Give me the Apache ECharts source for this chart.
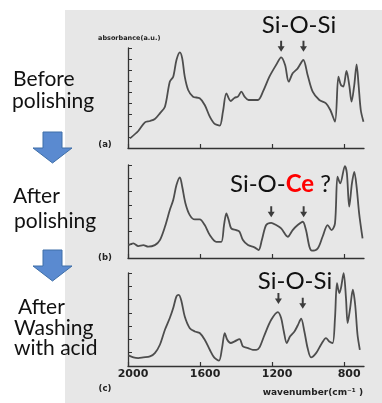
<!DOCTYPE html>
<html>
<head>
<meta charset="utf-8">
<script src="https://cdn.jsdelivr.net/npm/echarts@6/dist/echarts.min.js"></script>
<style>
  html, body { margin: 0; padding: 0; background: #fff; }
  #main { width: 382px; height: 403px; }
</style>
</head>
<body>
<div id="main"></div>
<script>
// wavenumber (cm-1) and absorbance (a.u.)
const wnA = [1989, 1943, 1906, 1878, 1851, 1823, 1795, 1768, 1749, 1731, 1712, 1699, 1685, 1666, 1639, 1602, 1574, 1546, 1522, 1491, 1473, 1454, 1430, 1408, 1390, 1371, 1353, 1331, 1279, 1251, 1215, 1178, 1150, 1128, 1108, 1086, 1058, 1027, 1003, 975, 938, 901, 877, 851, 832, 818, 805, 787, 772, 759, 744, 731, 720, 708, 693]
const absA = [0.87, 1.53, 2.31, 2.43, 2.61, 3.12, 3.72, 5.97, 6.42, 7.92, 8.61, 8.07, 6.42, 5.22, 4.62, 4.47, 3.87, 2.82, 2.22, 2.01, 3.27, 4.92, 4.23, 4.53, 4.62, 5.07, 4.62, 4.32, 4.32, 5.07, 6.42, 7.47, 8.16, 7.47, 5.97, 6.72, 7.17, 7.92, 6.57, 5.07, 4.32, 4.02, 3.42, 2.37, 6.42, 5.67, 5.52, 6.93, 5.67, 4.17, 5.67, 7.53, 5.67, 3.42, 2.37]

const wnB = [1998, 1970, 1943, 1915, 1888, 1851, 1823, 1795, 1768, 1749, 1731, 1712, 1699, 1681, 1657, 1629, 1602, 1574, 1546, 1510, 1482, 1467, 1454, 1441, 1427, 1399, 1381, 1362, 1334, 1298, 1275, 1257, 1233, 1205, 1178, 1150, 1113, 1086, 1058, 1030, 1012, 993, 979, 947, 920, 892, 870, 851, 837, 822, 796, 785, 772, 757, 744, 731, 717, 698]
const absB = [0.97, 1.10, 0.90, 0.97, 0.85, 0.97, 1.35, 2.35, 3.61, 4.36, 5.49, 6.07, 5.36, 4.11, 3.23, 2.90, 2.90, 2.48, 1.73, 1.22, 1.22, 2.48, 3.36, 2.85, 2.23, 2.10, 1.98, 1.35, 0.97, 0.80, 0.60, 1.35, 2.48, 2.65, 2.48, 2.23, 1.60, 2.10, 2.48, 2.73, 2.10, 0.85, 0.55, 0.72, 1.60, 2.48, 2.10, 2.60, 6.12, 5.61, 6.92, 6.37, 3.86, 5.61, 6.49, 5.36, 3.36, 1.47]

const wnC = [1998, 1970, 1943, 1915, 1878, 1851, 1823, 1795, 1768, 1749, 1731, 1718, 1703, 1685, 1657, 1629, 1602, 1574, 1546, 1522, 1495, 1478, 1463, 1449, 1430, 1408, 1381, 1362, 1334, 1307, 1288, 1270, 1242, 1205, 1168, 1150, 1135, 1119, 1100, 1076, 1058, 1039, 1021, 1003, 984, 956, 929, 901, 883, 864, 851, 840, 827, 818, 803, 790, 781, 767, 752, 739, 726, 713]
const absC = [0.80, 0.65, 0.60, 0.65, 0.72, 0.97, 1.60, 2.73, 3.61, 4.36, 5.24, 5.36, 4.86, 3.73, 2.85, 2.60, 2.48, 1.98, 1.22, 0.65, 0.40, 1.35, 2.48, 1.98, 1.73, 1.85, 2.03, 1.47, 1.35, 1.22, 1.22, 1.40, 2.35, 3.48, 4.06, 3.61, 2.60, 1.73, 2.23, 2.60, 3.05, 3.56, 2.60, 1.35, 0.65, 0.97, 1.60, 2.10, 1.85, 1.73, 3.61, 6.24, 5.49, 5.86, 6.99, 5.11, 3.23, 4.36, 5.74, 4.61, 2.35, 1.22]

// small black arrows [wavenumber, tip height]
const arrowsA = [[1150, 8.67], [1026, 8.67]]
const arrowsB = [[1205, 3.06], [1025, 3.06]]
const arrowsC = [[1165, 4.67], [1030, 4.3]]

const xTicks = [2000, 1600, 1200, 800]
const yMax = [9, 7, 7]

const panels = [
  { wn: wnA, abs: absA, arrows: arrowsA, top: 48, height: 100 },
  { wn: wnB, abs: absB, arrows: arrowsB, top: 165, height: 93 },
  { wn: wnC, abs: absC, arrows: arrowsC, top: 273, height: 93 }
]

const axisColor = '#333'
const lineColor = '#4d4d4d'
const arrowPath = 'path://M3.6,0 L6.4,0 L6.4,8 L10,8 L5,16 L0,8 L3.6,8 Z'

const grids = panels.map((p) => ({ left: 128, right: 18, top: p.top, height: p.height }))

const xAxes = panels.map((p, i) => ({
  type: 'value',
  gridIndex: i,
  min: 690,
  max: 2000,
  inverse: true,
  axisLine: { show: true, lineStyle: { color: axisColor, width: 1.3 } },
  axisTick: { show: true, inside: true, length: 4, customValues: xTicks, lineStyle: { color: axisColor, width: 1.2 } },
  axisLabel: {
    show: i === 2,
    customValues: xTicks,
    formatter: (v) => String(v),
    margin: 3,
    padding: [0, 0, 0, 10],
    fontFamily: 'DejaVu Sans',
    fontWeight: 'bold',
    fontSize: 11,
    color: '#222'
  },
  splitLine: { show: false }
}))

const yAxes = panels.map((p, i) => ({
  type: 'value',
  gridIndex: i,
  min: 0,
  max: yMax[i],
  interval: 1,
  axisLine: { show: true, lineStyle: { color: axisColor, width: 1.3 } },
  axisTick: { show: true, inside: true, length: 4, lineStyle: { color: axisColor, width: 1 } },
  axisLabel: { show: false },
  splitLine: { show: false }
}))

const series = []
panels.forEach((p, i) => {
  series.push({
    type: 'line',
    xAxisIndex: i,
    yAxisIndex: i,
    data: p.wn.map((w, k) => [w, p.abs[k]]),
    showSymbol: false,
    smooth: 0.3,
    lineStyle: { color: lineColor, width: 1.8 },
    z: 3
  })
  series.push({
    type: 'scatter',
    xAxisIndex: i,
    yAxisIndex: i,
    data: p.arrows,
    symbol: arrowPath,
    symbolSize: [7, 11],
    symbolOffset: [0, '-50%'],
    itemStyle: { color: '#111' },
    z: 4
  })
})

const bigFont = 'Lato, "Open Sans", sans-serif'

function sideText (str, x, y) {
  return { type: 'text', x: x, y: y, style: { text: str, font: '21px ' + bigFont, fill: '#111', verticalAlign: 'middle' } }
}

function blueArrow (top) {
  return {
    type: 'polygon',
    shape: { points: [[43, top], [62, top], [62, top + 16], [72, top + 16], [52.5, top + 31], [33, top + 16], [43, top + 16]] },
    style: { fill: '#5a8ad0', stroke: '#3f6fa8', lineWidth: 1 }
  }
}

function smallText (str, x, y, size, align) {
  return { type: 'text', x: x, y: y, style: { text: str, font: 'bold ' + size + 'px "DejaVu Sans"', fill: '#222', align: align || 'left', verticalAlign: 'middle' } }
}

const graphics = [
  { type: 'rect', z: -10, shape: { x: 65, y: 10, width: 317, height: 393 }, style: { fill: '#e7e7e7' } },
  sideText('Before', 13, 79),
  sideText('polishing', 12, 101),
  blueArrow(132),
  sideText('After', 13, 196),
  sideText('polishing', 14, 221),
  blueArrow(250),
  sideText('After', 18, 307),
  sideText('Washing', 14, 328),
  sideText('with acid', 14, 348),
  smallText('absorbance(a.u.)', 98, 38, 6.5),
  smallText('(a)', 105, 145, 8.5, 'center'),
  smallText('(b)', 105, 258, 8.5, 'center'),
  smallText('(c)', 105, 389, 8.5, 'center'),
  smallText('wavenumber(cm\u207B\u00B9 )', 363, 393, 9, 'right'),
  { type: 'text', x: 299, y: 25, style: { text: 'Si-O-Si', font: '24px ' + bigFont, fill: '#111', align: 'center', verticalAlign: 'middle' } },
  {
    type: 'text', x: 230, y: 184,
    style: {
      text: '{a|Si-O-}{b|Ce}{a| ?}',
      verticalAlign: 'middle',
      rich: {
        a: { font: '24px ' + bigFont, fill: '#111' },
        b: { font: 'bold 24px ' + bigFont, fill: '#ff0000' }
      }
    }
  },
  { type: 'text', x: 295, y: 281, style: { text: 'Si-O-Si', font: '24px ' + bigFont, fill: '#111', align: 'center', verticalAlign: 'middle' } }
]

const myChart = echarts.init(document.getElementById('main'))

const option = {
  backgroundColor: '#fff',
  animation: false,
  grid: grids,
  xAxis: xAxes,
  yAxis: yAxes,
  series: series,
  graphic: { elements: graphics }
}

myChart.setOption(option)
</script>
</body>
</html>
